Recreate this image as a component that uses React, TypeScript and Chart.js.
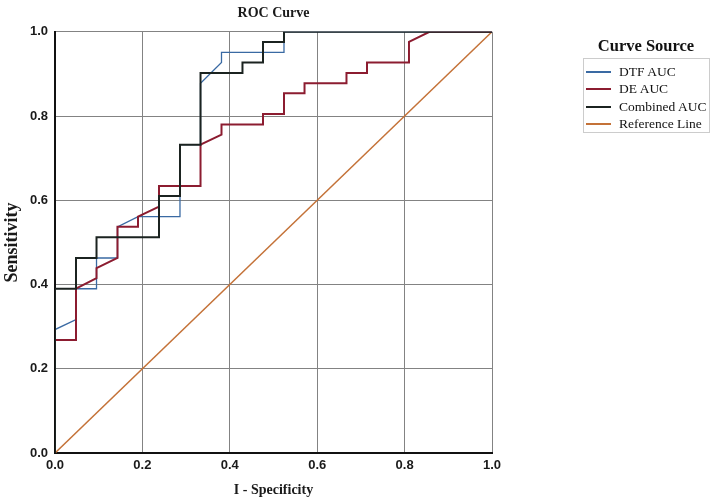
import React, { useEffect, useRef } from "react";
import { Chart, registerables } from "chart.js";

Chart.register(...registerables);

const seriesNames = ["DTF AUC", "DE AUC", "Combined AUC", "Reference Line"];
const seriesColors = ["#3a6aa3", "#8c1c30", "#1b2320", "#c47238"];

const dtfX = [0, 0, 0.048, 0.048, 0.095, 0.095, 0.143, 0.143, 0.19, 0.286, 0.286, 0.333, 0.333, 0.381, 0.381, 0.524, 0.524, 1.0];
const dtfY = [0, 0.293, 0.317, 0.39, 0.39, 0.463, 0.463, 0.537, 0.561, 0.561, 0.732, 0.732, 0.878, 0.927, 0.951, 0.951, 1.0, 1.0];

const deX = [0, 0, 0.048, 0.048, 0.095, 0.095, 0.143, 0.143, 0.19, 0.19, 0.238, 0.238, 0.333, 0.333, 0.381, 0.381, 0.476, 0.476, 0.524, 0.524, 0.571, 0.571, 0.667, 0.667, 0.714, 0.714, 0.81, 0.81, 0.857, 1.0];
const deY = [0, 0.268, 0.268, 0.39, 0.415, 0.439, 0.463, 0.537, 0.537, 0.561, 0.585, 0.634, 0.634, 0.732, 0.756, 0.78, 0.78, 0.805, 0.805, 0.854, 0.854, 0.878, 0.878, 0.902, 0.902, 0.927, 0.927, 0.976, 1.0, 1.0];

const combX = [0, 0, 0.048, 0.048, 0.095, 0.095, 0.238, 0.238, 0.286, 0.286, 0.333, 0.333, 0.429, 0.429, 0.476, 0.476, 0.524, 0.524, 1.0];
const combY = [0, 0.39, 0.39, 0.463, 0.463, 0.512, 0.512, 0.61, 0.61, 0.732, 0.732, 0.902, 0.902, 0.927, 0.927, 0.976, 0.976, 1.0, 1.0];

const refX = [0, 1];
const refY = [0, 1];

const axisMin = 0;
const axisMax = 1;
const axisStep = 0.2;

const chartTitle = "ROC Curve";
const xTitle = "I - Specificity";
const yTitle = "Sensitivity";
const legendTitle = "Curve Source";

const SERIF = '"Liberation Serif", "Times New Roman", serif';
const SANS = '"Liberation Sans", Arial, sans-serif';

function pts(xs: number[], ys: number[]) {
  return xs.map((x, i) => ({ x, y: ys[i] }));
}

export default function App() {
  const ref = useRef<HTMLCanvasElement | null>(null);

  useEffect(() => {
    if (!ref.current) return;
    const lineDs = (i: number, xs: number[], ys: number[], width: number, order: number) => ({
      label: seriesNames[i],
      data: pts(xs, ys),
      borderColor: seriesColors[i],
      backgroundColor: seriesColors[i],
      borderWidth: width,
      showLine: true,
      pointRadius: 0,
      tension: 0,
      fill: false,
      order,
    });
    const tickFont = { family: SANS, size: 13, weight: "bold" as const };
    const titleFont = { family: SERIF, size: 14, weight: "bold" as const };
    const chart = new Chart(ref.current, {
      type: "scatter",
      data: {
        datasets: [
          lineDs(0, dtfX, dtfY, 1.3, 2),
          lineDs(1, deX, deY, 2, 1),
          lineDs(2, combX, combY, 2, 0),
          lineDs(3, refX, refY, 1.5, 3),
        ],
      },
      options: {
        responsive: false,
        animation: false,
        layout: { padding: { left: 0, right: 222, top: 0, bottom: 0 } },
        plugins: {
          legend: { display: false },
          tooltip: { enabled: false },
          title: {
            display: true,
            text: chartTitle,
            fullSize: false,
            color: "#1a1a1a",
            font: titleFont,
            padding: { top: 5, bottom: 10 },
          },
        },
        scales: {
          x: {
            type: "linear",
            min: axisMin,
            max: axisMax,
            afterFit: (s: any) => {
              s.height = 51;
            },
            ticks: {
              stepSize: axisStep,
              callback: (v: any) => Number(v).toFixed(1),
              padding: 5,
              color: "#1a1a1a",
              font: tickFont,
              maxRotation: 0,
            },
            grid: { color: "#838383", lineWidth: 1, drawTicks: false },
            border: { color: "#111111", width: 2 },
            title: {
              display: true,
              text: xTitle,
              color: "#1a1a1a",
              font: titleFont,
              padding: { top: 6, bottom: 5 },
            },
          },
          y: {
            type: "linear",
            min: axisMin,
            max: axisMax,
            afterFit: (s: any) => {
              s.width = 55;
            },
            ticks: {
              stepSize: axisStep,
              callback: (v: any) => Number(v).toFixed(1),
              padding: 7,
              color: "#1a1a1a",
              font: tickFont,
            },
            grid: { color: "#838383", lineWidth: 1, drawTicks: false },
            border: { color: "#111111", width: 2 },
            title: {
              display: true,
              text: yTitle,
              color: "#1a1a1a",
              font: { family: SERIF, size: 18, weight: "bold" as const },
              padding: { top: 2, bottom: 10 },
            },
          },
        },
      },
    } as any);
    return () => chart.destroy();
  }, []);

  return (
    <div style={{ position: "fixed", left: 0, top: 0, width: 714, height: 504, background: "#ffffff" }}>
      <canvas ref={ref} width={714} height={504} style={{ position: "absolute", left: 0, top: 0 }} />
      <div
        style={{
          position: "absolute",
          left: 583,
          top: 36,
          width: 126,
          textAlign: "center",
          fontFamily: SERIF,
          fontWeight: "bold",
          fontSize: 16.5,
          lineHeight: "20px",
          color: "#111",
        }}
      >
        {legendTitle}
      </div>
      <div
        style={{
          position: "absolute",
          left: 583,
          top: 58,
          width: 127,
          height: 75,
          border: "1px solid #cccccc",
          boxSizing: "border-box",
          fontFamily: SERIF,
          fontSize: 13.5,
          color: "#111",
        }}
      >
        {seriesNames.map((name, i) => (
          <div
            key={name}
            style={{ position: "absolute", left: 2, top: 4 + i * 17.5, height: 17, display: "flex", alignItems: "center" }}
          >
            <span style={{ display: "inline-block", width: 25, height: 2, background: seriesColors[i], marginRight: 8 }} />
            <span style={{ whiteSpace: "nowrap" }}>{name}</span>
          </div>
        ))}
      </div>
    </div>
  );
}
